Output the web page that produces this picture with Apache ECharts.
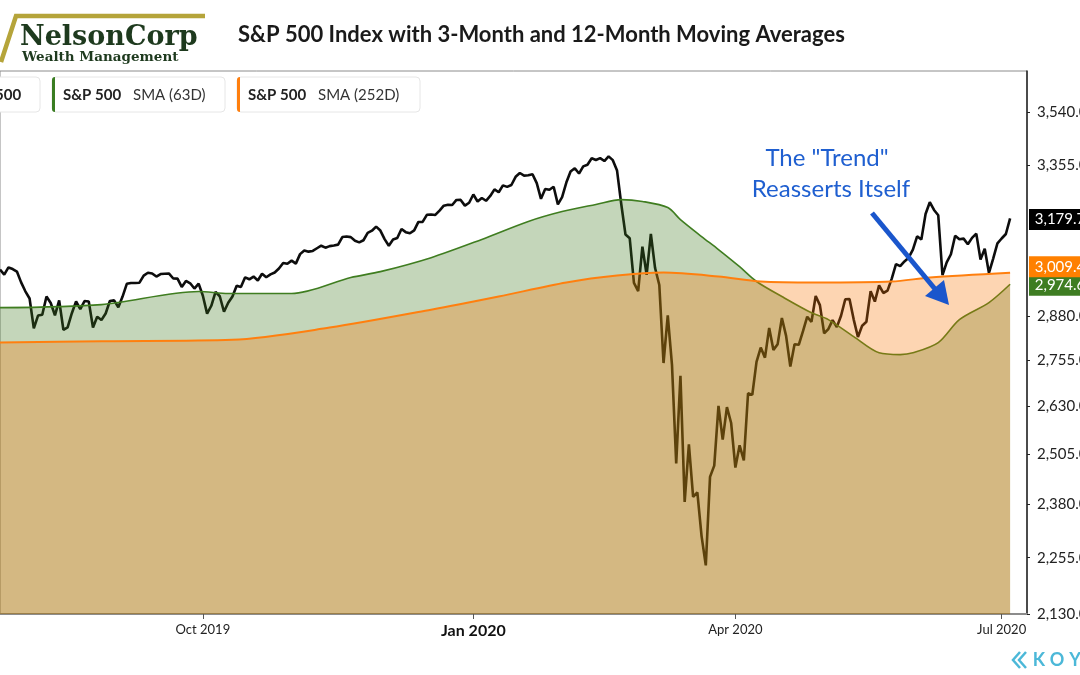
<!DOCTYPE html>
<html><head><meta charset="utf-8">
<script src="https://cdn.jsdelivr.net/npm/echarts@6/dist/echarts.min.js"></script>
<style>html,body{margin:0;padding:0;background:#fff}#c{width:1080px;height:675px}</style>
</head><body><div id="c"></div>
<script>
// ---------- data ----------
const startDate = '2019-07-24';
const endDate = '2020-07-10';
const holidays = ['2019-09-02','2019-11-28','2019-12-25','2020-01-01','2020-01-20','2020-02-17','2020-04-10','2020-05-25','2020-07-03'];

const spx = [
 3019.56,3003.67,3025.86,3020.97,3013.18,2980.38,
 2953.56,2932.05,2844.74,2881.77,2883.98,2938.09,2918.65,2882.70,2926.32,2840.60,2847.60,2888.68,2923.65,2900.51,2924.43,2922.95,2847.11,2878.38,2869.16,2887.94,2924.58,2926.46,
 2906.27,2937.78,2976.00,2978.71,2978.43,2979.39,3000.93,3009.57,3007.39,2997.96,3005.70,3006.73,3006.79,2992.07,2991.78,2966.60,2984.87,2977.62,2961.79,2976.74,
 2940.25,2887.61,2910.63,2952.01,2938.79,2893.06,2919.40,2938.13,2970.27,2966.15,2995.68,2989.69,2997.95,2986.20,3006.72,2995.99,3004.52,3010.29,3022.55,3039.42,3036.89,3046.77,3037.56,
 3066.91,3078.27,3074.62,3076.78,3085.18,3093.08,3087.01,3091.84,3094.04,3096.63,3120.46,3122.03,3120.18,3108.46,3103.54,3110.29,3133.64,3140.52,3153.63,3140.98,
 3113.87,3093.20,3112.76,3117.43,3145.91,3135.96,3132.52,3141.63,3168.57,3168.80,3191.45,3192.52,3191.14,3205.37,3221.22,3224.01,3223.38,3239.91,3240.02,3221.29,3230.78,
 3257.85,3234.85,3246.28,3237.18,3253.05,3274.70,3265.35,3288.13,3283.15,3289.29,3316.81,3329.62,3320.79,3321.75,3325.54,3295.47,3243.63,3276.24,3273.40,3283.66,3225.52,
 3248.92,3297.59,3334.69,3345.78,3327.71,3352.09,3357.75,3379.45,3373.94,3380.16,3370.29,3386.15,3373.23,3337.75,3225.89,3128.21,3116.39,2978.76,2954.22,
 3090.23,3003.37,3130.12,3023.94,2972.37,2746.56,2882.23,2741.38,2480.64,2711.02,2386.13,2529.19,2398.10,2409.39,2304.92,2237.40,2447.33,2475.56,2630.07,2541.47,2626.65,2584.59,
 2470.50,2526.90,2488.65,2663.68,2659.41,2749.98,2789.82,2761.63,2846.06,2783.36,2799.55,2874.56,2823.16,2736.56,2799.31,2797.80,2836.74,2878.48,2863.39,2939.51,2912.43,
 2830.71,2842.74,2868.44,2848.42,2881.19,2929.80,2930.32,2870.12,2820.00,2852.50,2863.70,2953.91,2922.94,2971.61,2948.51,2955.45,2991.77,3036.13,3029.73,3044.31,
 3055.73,3080.82,3122.87,3112.35,3193.93,3232.39,3207.18,3190.14,3002.10,3041.31,3066.59,3124.74,3113.49,3115.34,3097.74,3117.86,3131.29,3050.33,3083.76,3009.05,3053.24,3100.29,
 3115.86,3130.01,3179.72
];

const sma63 = [
 ['2019-07-24',2905],['2019-08-27',2914],['2019-09-30',2953],['2019-10-09',2947],['2019-10-30',2947],
 ['2019-11-19',2995],['2019-11-29',3013],['2019-12-17',3056],['2020-01-06',3113],['2020-01-22',3170],
 ['2020-02-03',3202],['2020-02-13',3225],['2020-02-24',3241],['2020-03-02',3235],['2020-03-10',3215],
 ['2020-03-13',3176],['2020-03-20',3122],['2020-03-26',3081],['2020-04-02',3028],['2020-04-08',2983],
 ['2020-04-17',2938],['2020-04-28',2890],['2020-05-04',2870],['2020-05-12',2821],['2020-05-20',2775],
 ['2020-05-28',2770],['2020-06-02',2775],['2020-06-10',2804],['2020-06-17',2870],['2020-06-26',2920],
 ['2020-07-06',2974.6]
];

const sma252 = [
 ['2019-07-24',2804],['2019-08-27',2808],['2019-10-10',2812],['2019-11-12',2847],['2019-12-17',2899],
 ['2020-01-10',2938],['2020-02-04',2980],['2020-02-21',3001],['2020-03-09',3010],['2020-03-26',2998],
 ['2020-04-09',2983],['2020-04-29',2980],['2020-05-26',2983],['2020-06-08',2995],['2020-07-06',3009.4]
];

const yTicks = [2130, 2255, 2380, 2505, 2630, 2755, 2880, 3355, 3540];
const xLabelDates = ['2019-10-01', '2020-01-02', '2020-04-01', '2020-07-01'];
const xLabelText = ['Oct 2019', 'Jan 2020', 'Apr 2020', 'Jul 2020'];
const boldLabel = 'Jan 2020';

// ---------- helpers ----------
function tradingDays(s, e, hol) {
  const out = [];
  const d = new Date(s + 'T00:00:00Z');
  const end = new Date(e + 'T00:00:00Z');
  while (d <= end) {
    const wd = d.getUTCDay();
    const iso = d.toISOString().slice(0, 10);
    if (wd !== 0 && wd !== 6 && !hol.includes(iso)) out.push(iso);
    d.setUTCDate(d.getUTCDate() + 1);
  }
  return out;
}
const dates = tradingDays(startDate, endDate, holidays);
const lastCat = dates[dates.length - 1];
const fmt = v => Number(v).toLocaleString('en-US', {minimumFractionDigits: 1, maximumFractionDigits: 1});
const FONT = 'Lato, "Noto Sans", sans-serif';

function endTag(value, color, dy) {
  return {
    symbol: 'rect', symbolSize: [62, 21], silent: true,
    data: [{coord: [lastCat, value], symbolOffset: [33, dy]}],
    itemStyle: {color: color},
    label: {show: true, position: 'inside', formatter: fmt(value), color: '#fff', fontFamily: FONT, fontSize: 15}
  };
}

const spxLast = spx[spx.length - 1];
const sma63Last = sma63[sma63.length - 1][1];
const sma252Last = sma252[sma252.length - 1][1];

const koyLetters = 'KOYFIN'.split('');

// ---------- chart ----------
const chart = echarts.init(document.getElementById('c'));
const option = {
  animation: false,
  backgroundColor: '#fff',
  title: {
    text: 'S&P 500 Index with 3-Month and 12-Month Moving Averages',
    left: 233, top: 19,
    textStyle: {fontFamily: FONT, fontSize: 22, fontWeight: 'bold', color: '#1a1a1a'}
  },
  grid: {left: 0, right: 53, top: 71, bottom: 61, outerBoundsMode: 'none', containLabel: false,
         show: true, borderColor: '#8c8c8c', borderWidth: 1, backgroundColor: 'transparent'},
  xAxis: {
    type: 'category', data: dates, boundaryGap: false,
    axisLine: {lineStyle: {color: '#8c8c8c', width: 2}},
    axisTick: {interval: (i, v) => xLabelDates.includes(v), length: 5, lineStyle: {color: '#555'}},
    axisLabel: {
      interval: (i, v) => xLabelDates.includes(v),
      formatter: v => {
        const k = xLabelDates.indexOf(v);
        if (k < 0) return '';
        const t = xLabelText[k];
        return t === boldLabel ? '{b|' + t + '}' : t;
      },
      margin: 9, color: '#222', fontFamily: FONT, fontSize: 13,
      rich: {b: {fontFamily: FONT, fontSize: 16, fontWeight: 'bold', color: '#111'}}
    },
    splitLine: {show: false}
  },
  yAxis: {
    type: 'log', position: 'right', min: 2130, max: 3692,
    axisLine: {show: true, lineStyle: {color: '#222', width: 1.5}},
    axisTick: {show: true, length: 3, customValues: yTicks, lineStyle: {color: '#222'}},
    axisLabel: {customValues: yTicks, formatter: v => fmt(v), margin: 10, color: '#222', fontFamily: FONT, fontSize: 15},
    splitLine: {show: false}
  },
  series: [
    {
      name: 'S&P 500', type: 'line', data: spx, symbol: 'none', clip: false, z: 2,
      lineStyle: {color: '#0d0d0d', width: 2.6},
      markPoint: endTag(spxLast, '#000000', 1)
    },
    {
      name: 'S&P 500 SMA (63D)', type: 'line', data: sma63, symbol: 'none', clip: false, z: 3,
      smooth: 0.3,
      lineStyle: {color: '#3f7d20', width: 1.6},
      areaStyle: {color: 'rgba(58,118,28,0.3)', opacity: 1, origin: 'start'},
      markPoint: endTag(sma63Last, '#3e7d22', 1)
    },
    {
      name: 'S&P 500 SMA (252D)', type: 'line', data: sma252, symbol: 'none', clip: false, z: 4,
      smooth: 0.3,
      lineStyle: {color: '#ff7f0e', width: 2},
      areaStyle: {color: 'rgba(248,115,0,0.3)', opacity: 1, origin: 'start'},
      markPoint: endTag(sma252Last, '#ff8000', -6)
    }
  ],
  graphic: [
    // logo
    {type: 'polyline', shape: {points: [[1, 62], [16, 16], [205, 16]]}, style: {stroke: '#b5a43a', lineWidth: 4.5, fill: null}},
    {type: 'text', style: {text: 'NelsonCorp', x: 20, y: 38, font: 'bold 27px "DejaVu Serif"', fill: '#1e3a1e', verticalAlign: 'middle'}},
    {type: 'text', style: {text: 'Wealth Management', x: 22, y: 57, font: 'bold 13.5px "DejaVu Serif"', fill: '#1e3a1e', verticalAlign: 'middle'}},
    // legend boxes
    {type: 'rect', shape: {x: -48, y: 77, width: 88, height: 35, r: 4}, style: {fill: '#fff', stroke: '#e6e6e6', lineWidth: 1}},
    {type: 'text', style: {text: 'S&P 500', x: -37, y: 95, font: 'bold 15px Lato', fill: '#222', verticalAlign: 'middle'}},
    {type: 'rect', shape: {x: 52, y: 77, width: 173, height: 35, r: 4}, style: {fill: '#fff', stroke: '#e6e6e6', lineWidth: 1}},
    {type: 'rect', shape: {x: 52, y: 77, width: 3, height: 35, r: [3, 0, 0, 3]}, style: {fill: '#3a7d22'}},
    {type: 'text', style: {text: 'S&P 500', x: 63, y: 95, font: 'bold 15px Lato', fill: '#222', verticalAlign: 'middle'}},
    {type: 'text', style: {text: 'SMA (63D)', x: 133, y: 95, font: '15px Lato', fill: '#333', verticalAlign: 'middle'}},
    {type: 'rect', shape: {x: 237, y: 77, width: 183, height: 35, r: 4}, style: {fill: '#fff', stroke: '#e6e6e6', lineWidth: 1}},
    {type: 'rect', shape: {x: 237, y: 77, width: 3, height: 35, r: [3, 0, 0, 3]}, style: {fill: '#ff7f0e'}},
    {type: 'text', style: {text: 'S&P 500', x: 248, y: 95, font: 'bold 15px Lato', fill: '#222', verticalAlign: 'middle'}},
    {type: 'text', style: {text: 'SMA (252D)', x: 318, y: 95, font: '15px Lato', fill: '#333', verticalAlign: 'middle'}},
    // annotation
    {type: 'text', z: 50, style: {text: 'The "Trend"', x: 827, y: 158, font: '24px Lato', fill: '#1f5fd0', align: 'center', verticalAlign: 'middle'}},
    {type: 'text', z: 50, style: {text: 'Reasserts Itself', x: 831, y: 189, font: '24px Lato', fill: '#1f5fd0', align: 'center', verticalAlign: 'middle'}},
    {type: 'line', z: 50, shape: {x1: 872, y1: 213, x2: 935, y2: 289}, style: {stroke: '#1a56cc', lineWidth: 5}},
    {type: 'polygon', z: 50, shape: {points: [[949, 305], [925, 296], [944, 280]]}, style: {fill: '#1a56cc'}},
    // koyfin mark
    {type: 'polyline', shape: {points: [[1020, 652], [1013, 660], [1020, 668]]}, style: {stroke: '#4cb8d8', lineWidth: 2.5, fill: null}},
    {type: 'polyline', shape: {points: [[1026, 652], [1019, 660], [1026, 668]]}, style: {stroke: '#4cb8d8', lineWidth: 2.5, fill: null}}
  ].concat(koyLetters.map((ch, i) => ({
    type: 'text', style: {text: ch, x: 1039 + i * 18, y: 660, font: 'bold 18px Lato', fill: '#4cb8d8', align: 'center', verticalAlign: 'middle'}
  })))
};
chart.setOption(option);
</script>
</body></html>
